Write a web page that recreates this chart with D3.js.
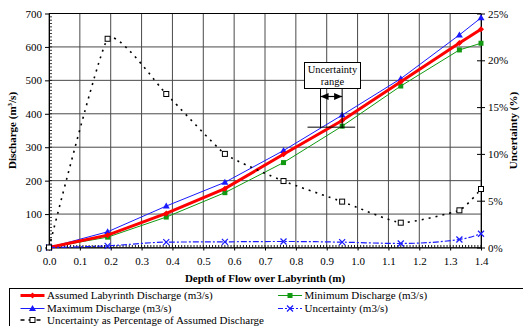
<!DOCTYPE html>
<html>
<head>
<meta charset="utf-8">
<script src="https://cdn.jsdelivr.net/npm/d3@7/dist/d3.min.js"></script>
<style>
  body { margin: 0; background: #fff; }
  svg text { font-family: "Liberation Serif", "Times New Roman", serif; }
</style>
</head>
<body>
<div id="chart"></div>
<script>
// Chart data
const depth = [0, 0.19, 0.38, 0.57, 0.76, 0.95, 1.14, 1.33, 1.40];
const assumed = [0, 37, 102, 176, 279, 380, 496, 612, 653];
const maximum = [0, 47, 124, 195, 290, 396, 505, 636, 687];
const minimum = [0, 31, 91, 164, 254, 363, 483, 591, 611];
const uncert = [0, 5, 16, 17, 18, 16, 12, 24, 41];
const uncertPct = [0, 22.3, 16.4, 10.0, 7.1, 4.9, 2.65, 3.97, 6.25];

const xTicks = d3.range(0, 1.41, 0.1);
const yTicks = d3.range(0, 701, 100);
const y2Ticks = [0, 5, 10, 15, 20, 25];

// annotation: uncertainty range at Q = 360
const rangeQ = 360;
const rangeDepth = [0.88, 0.95];

const width = 523, height = 326;
const margin = { top: 13.5, right: 42, bottom: 78.5, left: 49 };
const serif = "Liberation Serif";

const svg = d3.select("#chart").append("svg")
    .attr("width", width)
    .attr("height", height)
    .style("font-family", serif);

const x = d3.scaleLinear().domain([0, 1.4]).range([margin.left, width - margin.right]);
const y = d3.scaleLinear().domain([0, 700]).range([height - margin.bottom, margin.top]);
const y2 = d3.scaleLinear().domain([0, 25]).range([height - margin.bottom, margin.top]);

// grid
svg.append("g")
    .selectAll("line")
    .data(xTicks)
    .enter().append("line")
    .attr("x1", d => x(d)).attr("x2", d => x(d))
    .attr("y1", y(0)).attr("y2", y(700))
    .attr("stroke", "#4a4a4a").attr("stroke-width", 1);

svg.append("g")
    .selectAll("line")
    .data(yTicks)
    .enter().append("line")
    .attr("x1", x(0)).attr("x2", x(1.4))
    .attr("y1", d => y(d)).attr("y2", d => y(d))
    .attr("stroke", "#4a4a4a").attr("stroke-width", 1);

// plot top border
svg.append("line")
    .attr("x1", x(0)).attr("x2", x(1.4))
    .attr("y1", y(700)).attr("y2", y(700))
    .attr("stroke", "#000");

// left axis
const yAxis = svg.append("g")
    .attr("transform", `translate(${x(0)},0)`)
    .call(d3.axisLeft(y).tickValues(yTicks).tickSize(4).tickSizeOuter(0).tickFormat(d3.format("d")));
yAxis.attr("font-family", serif);
yAxis.selectAll("text").attr("font-size", 11).attr("x", -7);
svg.append("g")
    .selectAll("line")
    .data(d3.range(0, 701, 10))
    .enter().append("line")
    .attr("x1", x(0)).attr("x2", x(0) + 3)
    .attr("y1", d => y(d)).attr("y2", d => y(d))
    .attr("stroke", "#000").attr("stroke-width", 0.8);

// bottom axis
const xAxis = svg.append("g")
    .attr("transform", `translate(0,${y(0)})`)
    .call(d3.axisBottom(x).tickValues(xTicks).tickSize(3).tickSizeOuter(0).tickFormat(d3.format(".1f")));
xAxis.attr("font-family", serif);
xAxis.selectAll("text").attr("font-size", 11).attr("y", 10);
svg.append("g")
    .selectAll("line")
    .data(d3.range(0, 141, 1).map(d => d / 100))
    .enter().append("line")
    .attr("x1", d => x(d)).attr("x2", d => x(d))
    .attr("y1", y(0)).attr("y2", y(0) - 2.5)
    .attr("stroke", "#000").attr("stroke-width", 0.9);

// right axis
const y2Axis = svg.append("g")
    .attr("transform", `translate(${x(1.4)},0)`)
    .call(d3.axisRight(y2).tickValues(y2Ticks).tickSize(4).tickSizeOuter(0).tickFormat(d => d + "%"));
y2Axis.attr("font-family", serif);
y2Axis.selectAll("text").attr("font-size", 11).attr("x", 7);
y2Axis.selectAll(".tick line").attr("x1", -4);

// axis titles
svg.append("text")
    .attr("x", (x(0) + x(1.4)) / 2).attr("y", 281.5)
    .attr("text-anchor", "middle")
    .attr("font-size", 11).attr("font-weight", "bold")
    .text("Depth of Flow over Labyrinth (m)");

const yt = svg.append("text")
    .attr("transform", `translate(16,${(y(0) + y(700)) / 2}) rotate(-90)`)
    .attr("text-anchor", "middle")
    .attr("font-size", 11).attr("font-weight", "bold");
yt.append("tspan").text("Discharge (m");
yt.append("tspan").attr("font-size", 7).attr("dy", -4).text("3");
yt.append("tspan").attr("dy", 4).text("/s)");

svg.append("text")
    .attr("transform", `translate(517,${(y(0) + y(700)) / 2}) rotate(-90)`)
    .attr("text-anchor", "middle")
    .attr("font-size", 11).attr("font-weight", "bold")
    .text("Uncertainty (%)");

// series
const pts = vals => depth.map((d, i) => [d, vals[i]]);
const lineQ = d3.line().x(d => x(d[0])).y(d => y(d[1]));
const lineQs = d3.line().x(d => x(d[0])).y(d => y(d[1])).curve(d3.curveMonotoneX);
const lineP = d3.line().x(d => x(d[0])).y(d => y2(d[1])).curve(d3.curveCardinal.tension(0.55));

const series = [
    { name: "Minimum Discharge (m3/s)", data: pts(minimum), color: "#119911", width: 1, dash: null, marker: "square", gen: lineQ },
    { name: "Maximum Discharge (m3/s)", data: pts(maximum), color: "#1a1aff", width: 1, dash: null, marker: "triangle", gen: lineQ },
    { name: "Assumed Labyrinth Discharge (m3/s)", data: pts(assumed), color: "#ff0000", width: 3, dash: null, marker: "diamond", gen: lineQ },
    { name: "Uncertainty (m3/s)", data: pts(uncert), color: "#1a1aff", width: 1.2, dash: "6,2,2,2", marker: "cross", gen: lineQs },
    { name: "Uncertainty as Percentage of Assumed Discharge", data: pts(uncertPct), color: "#000", width: 1.6, dash: "2,5", marker: "hollow", gen: lineP }
];

function drawMarker(g, type, color, cx, cy) {
    if (type === "square") {
        g.append("rect").attr("x", cx - 2.5).attr("y", cy - 2.5).attr("width", 5).attr("height", 5).attr("fill", color);
    } else if (type === "triangle") {
        g.append("path").attr("d", `M${cx},${cy - 3.5}L${cx + 3.5},${cy + 2.5}L${cx - 3.5},${cy + 2.5}Z`).attr("fill", color);
    } else if (type === "diamond") {
        g.append("path").attr("d", `M${cx},${cy - 3}L${cx + 3},${cy}L${cx},${cy + 3}L${cx - 3},${cy}Z`).attr("fill", color);
    } else if (type === "cross") {
        g.append("path").attr("d", `M${cx - 3},${cy - 3}L${cx + 3},${cy + 3}M${cx - 3},${cy + 3}L${cx + 3},${cy - 3}`)
            .attr("stroke", color).attr("stroke-width", 1.2);
    } else if (type === "hollow") {
        g.append("rect").attr("x", cx - 2.5).attr("y", cy - 2.5).attr("width", 5).attr("height", 5)
            .attr("fill", "#fff").attr("stroke", color).attr("stroke-width", 1);
    }
}

series.forEach(s => {
    const g = svg.append("g");
    g.append("path")
        .datum(s.data)
        .attr("fill", "none")
        .attr("stroke", s.color)
        .attr("stroke-width", s.width)
        .attr("stroke-dasharray", s.dash)
        .attr("d", s.gen);
    const yy = s.gen === lineP ? y2 : y;
    s.data.forEach(d => drawMarker(g, s.marker, s.color, x(d[0]), yy(d[1])));
});

// uncertainty range annotation
const ann = svg.append("g");
const boxL = 304.5, boxR = 360.5, boxT = 62.5, boxB = 88.5;
rangeDepth.forEach(d => {
    ann.append("line")
        .attr("x1", x(d)).attr("x2", x(d))
        .attr("y1", boxB).attr("y2", y(rangeQ) + 1)
        .attr("stroke", "#000").attr("stroke-width", 1);
});
ann.append("line")
    .attr("x1", x(rangeDepth[0]) - 13).attr("x2", x(rangeDepth[1]) + 13)
    .attr("y1", y(rangeQ)).attr("y2", y(rangeQ))
    .attr("stroke", "#000").attr("stroke-width", 1);
const ay = 96.5, xa = x(rangeDepth[0]), xb = x(rangeDepth[1]);
ann.append("line").attr("x1", xa).attr("x2", xb).attr("y1", ay).attr("y2", ay).attr("stroke", "#000").attr("stroke-width", 1.2);
ann.append("path").attr("d", `M${xa},${ay}L${xa + 8},${ay - 3.5}L${xa + 8},${ay + 3.5}Z`).attr("fill", "#000");
ann.append("path").attr("d", `M${xb},${ay}L${xb - 8},${ay - 3.5}L${xb - 8},${ay + 3.5}Z`).attr("fill", "#000");
ann.append("rect")
    .attr("x", boxL).attr("y", boxT).attr("width", boxR - boxL).attr("height", boxB - boxT)
    .attr("fill", "#fff").attr("stroke", "#000").attr("stroke-width", 1);
ann.append("text").attr("x", (boxL + boxR) / 2).attr("y", 73).attr("text-anchor", "middle")
    .attr("font-size", 10.5).text("Uncertainty");
ann.append("text").attr("x", (boxL + boxR) / 2).attr("y", 85).attr("text-anchor", "middle")
    .attr("font-size", 10.5).text("range");

// legend
const legend = svg.append("g");
legend.append("rect")
    .attr("x", 9.5).attr("y", 288.5).attr("width", 530).attr("height", 60)
    .attr("fill", "#fff").attr("stroke", "#000").attr("stroke-width", 1);

const legendOrder = [
    { s: series[2], col: 0, row: 0 },
    { s: series[0], col: 1, row: 0 },
    { s: series[1], col: 0, row: 1 },
    { s: series[3], col: 1, row: 1 },
    { s: series[4], col: 0, row: 2 }
];
const colX = [20.5, 278];
const rowY = [295.5, 308.5, 320];
legendOrder.forEach(e => {
    const lx = colX[e.col], ly = rowY[e.row];
    const g = legend.append("g");
    g.append("line")
        .attr("x1", lx).attr("x2", lx + 24)
        .attr("y1", ly).attr("y2", ly)
        .attr("stroke", e.s.color)
        .attr("stroke-width", e.s.width)
        .attr("stroke-dasharray", e.s.dash === "2,5" ? "4,4" : (e.s.dash ? "5,2,2,2" : null));
    drawMarker(g, e.s.marker, e.s.color, lx + 12, ly);
    g.append("text")
        .attr("x", lx + 26.5).attr("y", ly + 3.8)
        .attr("font-size", 11)
        .text(e.s.name);
});
</script>
</body>
</html>
